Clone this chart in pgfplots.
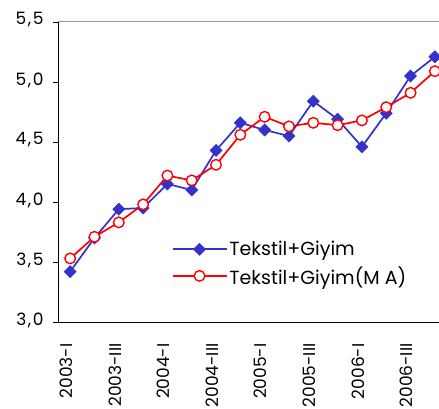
\documentclass[border=0pt]{standalone}
\usepackage{pgfplots}
\pgfplotsset{compat=1.18}
\usetikzlibrary{calc}
\usepackage{fontspec}
\setmainfont{Poppins}
\newfontfamily\tickfont[LetterSpace=9]{Poppins}
\definecolor{seriesblue}{RGB}{51,51,204}
\definecolor{seriesred}{RGB}{255,0,0}

\begin{document}
\begin{tikzpicture}
\begin{axis}[
  name=ax,
  scale only axis,
  width=381pt, height=300pt,
  xmin=-0.5, xmax=15.17,
  ymin=3, ymax=5.5,
  axis x line*=bottom,
  axis y line*=left,
  axis line style={black, line width=0.9pt},
  font=\fontsize{17}{20}\selectfont,
  ytick={3,3.5,...,5.5},
  y tick label style={font=\tickfont\fontsize{17}{20}\selectfont,
    /pgf/number format/use comma, /pgf/number format/fixed,
    /pgf/number format/fixed zerofill, /pgf/number format/precision=1,
    /pgf/number format/assume math mode=true, xshift=-6pt, yshift=2pt},
  tick style={black, line width=0.8pt},
  major tick length=5pt,
  ytick align=outside,
  xtick={0,2,...,14},
  xticklabels={2003-I,2003-III,2004-I,2004-III,2005-I,2005-III,2006-I,2006-III},
  x tick label style={rotate=90, anchor=east, xshift=-13pt, yshift=4pt},
  xtick style={draw=none},
  minor xtick={-0.5,0.5,...,15.5},
  minor tick length=5pt,
  minor x tick style={black, line width=0.8pt},
  xtick align=outside,
  clip=false,
  legend style={draw=none, fill=none, at={(0.29,0.283)}, anchor=north west,
    font=\fontsize{19}{22}\selectfont, row sep=5pt, cells={anchor=west}},
  legend image code/.code={\draw[mark repeat=2, mark phase=2, #1]
    plot coordinates {(0pt,0pt) (27pt,0pt) (54pt,0pt)};},
]
% top frame line
\draw[gray!80, line width=1pt] (rel axis cs:0,1) -- (rel axis cs:1,1);

\addplot[seriesblue, line width=1.7pt, mark=square*, mark size=4.3pt,
  mark options={rotate=45, fill=seriesblue, line width=0.5pt}]
  coordinates {
  (0,3.42) (1,3.70) (2,3.94) (3,3.95) (4,4.15) (5,4.10) (6,4.43) (7,4.66)
  (8,4.60) (9,4.55) (10,4.84) (11,4.69) (12,4.46) (13,4.74) (14,5.05) (15,5.21)};
\addlegendentry{Tekstil+Giyim}

\addplot[seriesred, line width=1.7pt, mark=*, mark size=5.3pt,
  mark options={fill=white, line width=1.4pt}]
  coordinates {
  (0,3.53) (1,3.71) (2,3.83) (3,3.98) (4,4.22) (5,4.18) (6,4.31) (7,4.56)
  (8,4.71) (9,4.63) (10,4.66) (11,4.64) (12,4.68) (13,4.79) (14,4.91) (15,5.09)};
\addlegendentry{Tekstil+Giyim(M A)}
\end{axis}
\pgfresetboundingbox
\path ($(ax.south west)+(-58pt,-87pt)$) rectangle ($(ax.north east)+(0pt,22pt)$);
\end{tikzpicture}
\end{document}
